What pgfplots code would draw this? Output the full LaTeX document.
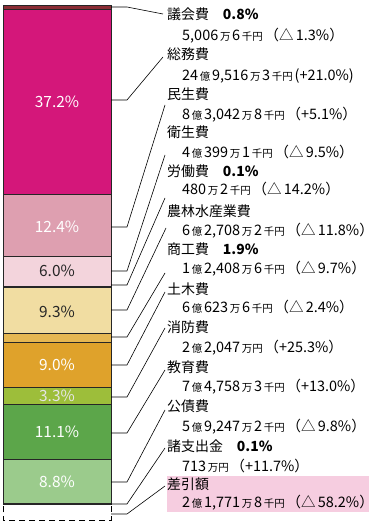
\documentclass[border=0pt]{standalone}
\usepackage{pgfplots}
\pgfplotsset{compat=1.18}
\usepackage{fontspec}
\setmainfont{Noto Sans CJK JP}
\definecolor{cGikai}{HTML}{8B2D35}
\definecolor{cSomu}{HTML}{D4177A}
\definecolor{cMinsei}{HTML}{DE9FB0}
\definecolor{cEisei}{HTML}{F3D4DC}
\definecolor{cNorin}{HTML}{F1DDA2}
\definecolor{cShoko}{HTML}{E6B752}
\definecolor{cDoboku}{HTML}{DFA22B}
\definecolor{cShobo}{HTML}{9DBE3A}
\definecolor{cKyoiku}{HTML}{5CA64A}
\definecolor{cKosai}{HTML}{9BCB8C}
\definecolor{cHL}{HTML}{F6CDE0}
\newcommand{\s}[1]{{\fontsize{10.5}{10.5}\selectfont\,#1\,}}
\newcommand{\nm}[3]{\node[anchor=base west,inner sep=0pt] at (#1,#2) {#3};}
\newcommand{\am}[3]{\node[anchor=base west,inner sep=0pt,font=\fontsize{14.5}{15}\selectfont] at (#1,#2) {#3};}
\begin{document}
\begin{tikzpicture}
\path[use as bounding box] (0,0) rectangle (384bp,527bp);
\begin{axis}[at={(0,0)},anchor=south west,
  scale only axis, width=384bp, height=527bp,
  xmin=0, xmax=384, ymin=-1.002, ymax=104.61, y dir=reverse,
  hide axis, clip=false, ybar stacked, bar width=108,
  every axis plot/.append style={draw=black!85, line width=0.7bp}]
\addplot[fill=cGikai] coordinates {(57,0.8)};
\addplot[fill=cSomu] coordinates {(57,37.2)};
\addplot[fill=cMinsei] coordinates {(57,12.4)};
\addplot[fill=cEisei] coordinates {(57,6.0)};
\addplot[fill=black] coordinates {(57,0.1)};
\addplot[fill=cNorin] coordinates {(57,9.3)};
\addplot[fill=cShoko] coordinates {(57,1.9)};
\addplot[fill=cDoboku] coordinates {(57,9.0)};
\addplot[fill=cShobo] coordinates {(57,3.3)};
\addplot[fill=cKyoiku] coordinates {(57,11.1)};
\addplot[fill=cKosai] coordinates {(57,8.8)};
\addplot[fill=black] coordinates {(57,0.1)};
\addplot[fill=white, draw=black, line width=1bp, dash pattern=on 6bp off 4bp] coordinates {(57,3.25)};
\end{axis}
\begin{scope}[x=1bp,y=-1bp,shift={(0,527bp)}]
% bar labels
\begin{scope}[every node/.style={font=\fontsize{15.5}{16}\selectfont, inner sep=0pt}]
\node[white] at (57,102) {37.2\%};
\node[white] at (57,227) {12.4\%};
\node[black!85] at (57,271) {6.0\%};
\node[black!85] at (57,312) {9.3\%};
\node[white] at (57,365) {9.0\%};
\node[white!90!black] at (57,396) {3.3\%};
\node[white] at (57,432) {11.1\%};
\node[white] at (57,482) {8.8\%};
\end{scope}
% leader lines
\begin{scope}[line width=0.6bp, black]
\draw (111,7) -- (127,7) -- (163,14);
\draw (111,100) -- (127,100) -- (163,57);
\draw (111,227) -- (127,227) -- (165,105);
\draw (111,271) -- (127,271) -- (165,155);
\draw (111,285) -- (127,285) -- (165,198);
\draw (111,310) -- (127,310) -- (166,228);
\draw (111,337) -- (127,337) -- (165,273);
\draw (111,365) -- (127,365) -- (165,292);
\draw (111,397) -- (127,397) -- (165,328);
\draw (111,433) -- (127,433) -- (165,370);
\draw (111,482) -- (127,482) -- (165,410);
\draw (111,504) -- (127,504) -- (165,448);
\draw (111,514) -- (127,514) -- (165,486);
\end{scope}
\fill[cHL] (167,476) rectangle (369,512);
\begin{scope}[every node/.style={font=\fontsize{14}{15}\selectfont}]
\nm{167}{20}{議会費\hspace{1em}\textbf{0.8\%}}
\am{182}{41}{5,006\s{万}6\s{千円}（△\,1.3\%）}
\nm{167}{60}{総務費}
\am{182}{81}{24\s{億}9,516\s{万}3\s{千円}(+21.0\%)}
\nm{167}{100}{民生費}
\am{182}{120}{8\s{億}3,042\s{万}8\s{千円}（+5.1\%）}
\nm{167}{138}{衛生費}
\am{182}{158}{4\s{億}399\s{万}1\s{千円}（△\,9.5\%）}
\nm{167}{177}{労働費\hspace{1em}\textbf{0.1\%}}
\am{182}{195}{480\s{万}2\s{千円}（△\,14.2\%）}
\nm{167}{217}{農林水産業費}
\am{182}{236}{6\s{億}2,708\s{万}2\s{千円}（△\,11.8\%）}
\nm{167}{255}{商工費\hspace{1em}\textbf{1.9\%}}
\am{182}{274}{1\s{億}2,408\s{万}6\s{千円}（△\,9.7\%）}
\nm{167}{295}{土木費}
\am{182}{313}{6\s{億}623\s{万}6\s{千円}（△\,2.4\%）}
\nm{167}{333}{消防費}
\am{182}{353}{2\s{億}2,047\s{万円}（+25.3\%）}
\nm{167}{373}{教育費}
\am{182}{392}{7\s{億}4,758\s{万}3\s{千円}（+13.0\%）}
\nm{167}{412}{公債費}
\am{182}{432}{5\s{億}9,247\s{万}2\s{千円}（△\,9.8\%）}
\nm{167}{452}{諸支出金\hspace{1em}\textbf{0.1\%}}
\am{182}{472}{713\s{万円}（+11.7\%）}
\nm{167}{490}{差引額}
\am{182}{508}{2\s{億}1,771\s{万}8\s{千円}（△\,58.2\%）}
\end{scope}
\end{scope}
\end{tikzpicture}
\end{document}
